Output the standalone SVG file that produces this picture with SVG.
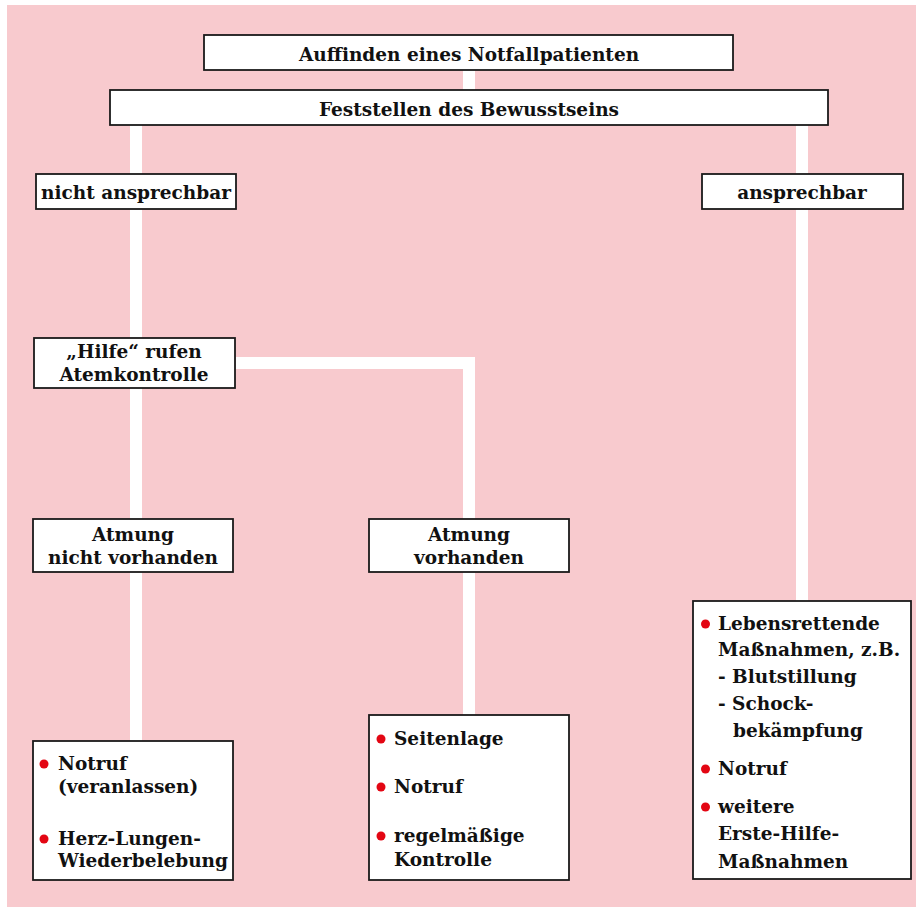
<svg xmlns="http://www.w3.org/2000/svg" width="916" height="907" viewBox="0 0 916 907">
<style>
.box{fill:#fff;stroke:#1a1a1a;stroke-width:1.8}
.t{font-family:"DejaVu Serif","Liberation Serif",serif;font-weight:bold;font-size:18.5px;fill:#111}
.c{text-anchor:middle}
.b{fill:#e30613}
.con{fill:none;stroke:#fff;stroke-width:12}
</style>
<rect x="0" y="0" width="916" height="907" fill="#fff"/>
<rect x="7" y="5" width="909" height="902" fill="#f8cace"/>
<g id="connectors">
<path class="con" d="M469 70V90"/>
<path class="con" d="M136 125V741"/>
<path class="con" d="M802 125V601"/>
<path class="con" d="M236 363H469V715"/>
</g>
<g id="n1"><rect class="box" x="204" y="35" width="529" height="35"/><text class="t c" x="469" y="61">Auffinden eines Notfallpatienten</text></g>
<g id="n2"><rect class="box" x="110" y="90" width="718" height="35"/><text class="t c" x="469" y="116">Feststellen des Bewusstseins</text></g>
<g id="n3"><rect class="box" x="36" y="174" width="200" height="35"/><text class="t c" x="136" y="199">nicht ansprechbar</text></g>
<g id="n4"><rect class="box" x="702" y="174" width="201" height="35"/><text class="t c" x="802" y="199">ansprechbar</text></g>
<g id="n5"><rect class="box" x="34" y="338" width="201" height="50"/><text class="t c" x="134" y="358">„Hilfe“ rufen</text><text class="t c" x="134" y="381">Atemkontrolle</text></g>
<g id="n6"><rect class="box" x="33" y="519" width="200" height="53"/><text class="t c" x="133" y="541">Atmung</text><text class="t c" x="133" y="564">nicht vorhanden</text></g>
<g id="n7"><rect class="box" x="369" y="519" width="200" height="53"/><text class="t c" x="469" y="541">Atmung</text><text class="t c" x="469" y="564">vorhanden</text></g>
<g id="n8"><rect class="box" x="33" y="741" width="200" height="139"/>
<circle class="b" cx="44" cy="764" r="4.5"/><text class="t" x="58" y="770">Notruf</text><text class="t" x="58" y="793">(veranlassen)</text>
<circle class="b" cx="44" cy="839" r="4.5"/><text class="t" x="58" y="845">Herz-Lungen-</text><text class="t" x="58" y="867">Wiederbelebung</text></g>
<g id="n9"><rect class="box" x="369" y="715" width="200" height="165"/>
<circle class="b" cx="381" cy="739" r="4.5"/><text class="t" x="394" y="745">Seitenlage</text>
<circle class="b" cx="381" cy="787" r="4.5"/><text class="t" x="394" y="793">Notruf</text>
<circle class="b" cx="381" cy="836" r="4.5"/><text class="t" x="394" y="842">regelmäßige</text><text class="t" x="394" y="866">Kontrolle</text></g>
<g id="n10"><rect class="box" x="693" y="601" width="218" height="278"/>
<circle class="b" cx="705.5" cy="624" r="4.5"/><text class="t" x="718" y="630">Lebensrettende</text>
<text class="t" x="718" y="656">Maßnahmen, z.B.</text>
<text class="t" x="718" y="683">- Blutstillung</text>
<text class="t" x="718" y="710">- Schock-</text>
<text class="t" x="733" y="737">bekämpfung</text>
<circle class="b" cx="705.5" cy="769" r="4.5"/><text class="t" x="718" y="775">Notruf</text>
<circle class="b" cx="705.5" cy="807" r="4.5"/><text class="t" x="718" y="813">weitere</text>
<text class="t" x="718" y="840">Erste-Hilfe-</text>
<text class="t" x="718" y="868">Maßnahmen</text></g>
</svg>
